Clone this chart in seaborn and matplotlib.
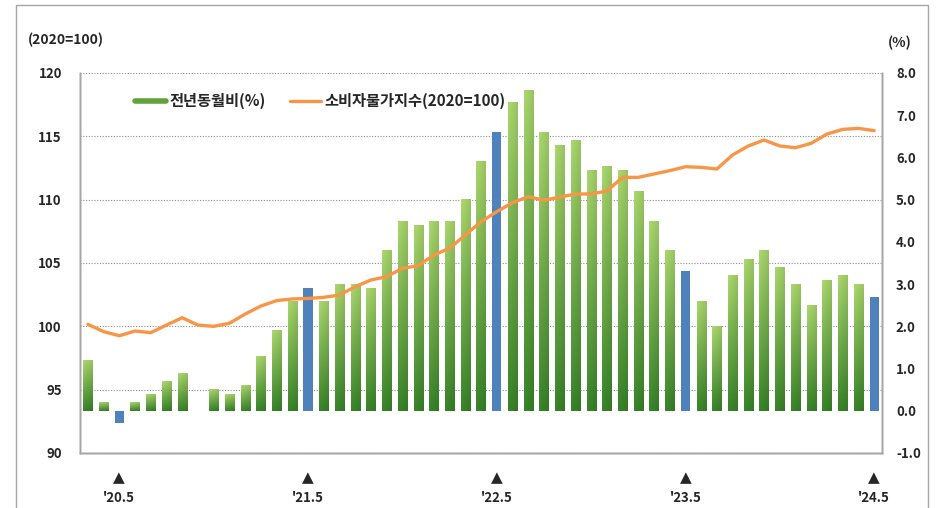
import numpy as np
import pandas as pd
import matplotlib
matplotlib.use("Agg")
import matplotlib.pyplot as plt
import seaborn as sns
from matplotlib.lines import Line2D
from matplotlib.patches import Rectangle

# ---------------- data ----------------
months = ["20.3", "20.4", "20.5", "20.6", "20.7", "20.8", "20.9", "20.10", "20.11", "20.12",
          "21.1", "21.2", "21.3", "21.4", "21.5", "21.6", "21.7", "21.8", "21.9", "21.10", "21.11", "21.12",
          "22.1", "22.2", "22.3", "22.4", "22.5", "22.6", "22.7", "22.8", "22.9", "22.10", "22.11", "22.12",
          "23.1", "23.2", "23.3", "23.4", "23.5", "23.6", "23.7", "23.8", "23.9", "23.10", "23.11", "23.12",
          "24.1", "24.2", "24.3", "24.4", "24.5"]
yoy = [1.2, 0.2, -0.3, 0.2, 0.4, 0.7, 0.9, 0.0, 0.5, 0.4,
       0.6, 1.3, 1.9, 2.6, 2.9, 2.6, 3.0, 3.0, 2.9, 3.8, 4.5, 4.4,
       4.5, 4.5, 5.0, 5.9, 6.6, 7.3, 7.6, 6.6, 6.3, 6.4, 5.7, 5.8,
       5.7, 5.2, 4.5, 3.8, 3.3, 2.6, 2.0, 3.2, 3.6, 3.8, 3.4, 3.0,
       2.5, 3.1, 3.2, 3.0, 2.7]
cpi = [100.16, 99.58, 99.26, 99.63, 99.50, 100.10, 100.68, 100.10, 100.00, 100.24,
       100.97, 101.60, 102.03, 102.16, 102.20, 102.29, 102.47, 103.13, 103.66, 103.92, 104.58, 104.79,
       105.63, 106.16, 107.21, 108.26, 109.05, 109.76, 110.24, 109.95, 110.20, 110.45, 110.45, 110.68,
       111.76, 111.76, 112.03, 112.29, 112.60, 112.55, 112.42, 113.53, 114.24, 114.71, 114.24, 114.10,
       114.45, 115.18, 115.55, 115.63, 115.45]
highlight = ["20.5", "21.5", "22.5", "23.5", "24.5"]
tick_labels = ["'20.5", "'21.5", "'22.5", "'23.5", "'24.5"]
left_ticks = [90, 95, 100, 105, 110, 115, 120]
right_ticks = [-1.0, 0.0, 1.0, 2.0, 3.0, 4.0, 5.0, 6.0, 7.0, 8.0]
legend_bar = "전년동월비(%)"
legend_line = "소비자물가지수(2020=100)"
left_unit = "(2020=100)"
right_unit = "(%)"

# ---------------- style ----------------
sns.set_style("white")
plt.rcParams["font.family"] = ["Noto Sans CJK KR", "DejaVu Sans"]
plt.rcParams["font.weight"] = "bold"

BLUE = "#4F81BD"
GREEN = "#7DBB4F"
ORANGE = "#F79646"
GRAY = "#A6A6A6"

idx = np.arange(len(months))
df = pd.DataFrame({"x": idx, "month": months, "yoy": yoy, "cpi": cpi})
df["kind"] = np.where(df["month"].isin(highlight), "hl", "normal")

fig = plt.figure(figsize=(9.48, 5.08), dpi=100)
ax = fig.add_axes([80 / 948, 1 - 453 / 508, (882 - 80) / 948, (453 - 73) / 508])
axb = ax.twinx()
axl = ax.twinx()

# bars
sns.barplot(data=df, x="x", y="yoy", hue="kind", palette={"hl": BLUE, "normal": GREEN},
            native_scale=True, width=0.58, saturation=1, legend=False, ax=axb,
            linewidth=0, zorder=2)

# gradient fill for the green bars
ny, nx = 64, 16
t = np.linspace(0, 1, ny)[:, None]
s = np.linspace(0, 1, nx)[None, :]
top = np.array([0.67, 0.85, 0.43])
bot = np.array([0.22, 0.52, 0.16])
grad = (1 - t)[..., None] * top + t[..., None] * bot
shade = (1.0 - 0.10 * s)[..., None]
grad = np.clip(grad * shade, 0, 1)
for p in list(axb.patches):
    fc = p.get_facecolor()
    if abs(fc[0] - matplotlib.colors.to_rgba(GREEN)[0]) < 0.02 and p.get_height() != 0:
        x0, w, h = p.get_x(), p.get_width(), p.get_height()
        axb.imshow(grad, extent=(x0, x0 + w, min(0, h), max(0, h)), aspect="auto",
                   interpolation="bilinear", zorder=2.1)

# line
sns.lineplot(data=df, x="x", y="cpi", ax=axl, color=ORANGE, linewidth=2.4, sort=False, zorder=3)

# ---------------- axes ----------------
for a in (ax, axb, axl):
    a.set_xlim(-0.5, len(months) - 0.5)
    a.set_xlabel("")
    a.set_ylabel("")

ax.set_ylim(90, 120)
axl.set_ylim(90, 120)
axb.set_ylim(-1, 8)

ax.set_yticks(left_ticks)
ax.set_yticklabels([str(v) for v in left_ticks], fontsize=9.5, fontweight="bold")
ax.tick_params(axis="y", length=0, pad=13)
ax.yaxis.grid(True, linestyle=(0, (1, 1.5)), color="#8C8C8C", linewidth=0.8)
ax.set_axisbelow(True)

axb.set_yticks(right_ticks)
axb.set_yticklabels([f"{v:.1f}" for v in right_ticks], fontsize=9.5, fontweight="bold")
axb.tick_params(axis="y", length=0, pad=10)
axl.set_yticks([])

pos = [months.index(m) for m in highlight]
ax.set_xticks(pos)
ax.set_xticklabels(tick_labels, fontsize=9.5, fontweight="bold")
ax.set_xticks(np.arange(-0.5, len(months), 1.0), minor=True)
ax.tick_params(axis="x", which="major", length=0, pad=27)
ax.tick_params(axis="x", which="minor", length=3, color=GRAY, width=0.8, direction="out")
for xp in pos:
    ax.text(xp, -0.065, "▲", transform=ax.get_xaxis_transform(), ha="center", va="center",
            fontsize=11, family=["DejaVu Sans"])

for a in (ax, axb, axl):
    a.spines["top"].set_visible(False)
    for side in ("left", "right", "bottom"):
        a.spines[side].set_color(GRAY)
        a.spines[side].set_linewidth(1.0)

# units
fig.text(66 / 948, 1 - 40 / 508, left_unit, ha="center", va="center", fontsize=10, fontweight="bold")
fig.text(900 / 948, 1 - 43 / 508, right_unit, ha="center", va="center", fontsize=10, fontweight="bold")

# legend
handles = [Line2D([0], [0], color="#62A33E", linewidth=4),
           Line2D([0], [0], color=ORANGE, linewidth=2.4)]
fig.legend(handles, [legend_bar, legend_line], loc="center left",
           bbox_to_anchor=(135 / 948, 1 - 101 / 508), ncol=2, frameon=False,
           borderaxespad=0, borderpad=0, handlelength=2.0, handletextpad=0.25,
           columnspacing=1.6, prop={"size": 11, "weight": "bold"})

# outer frame
fig.patches.append(Rectangle((16 / 948, -0.05), (928 - 16) / 948, 1.05 - 5 / 508,
                             transform=fig.transFigure, fill=False, edgecolor=GRAY, linewidth=1.0))

fig.savefig("out.png", dpi=100)
